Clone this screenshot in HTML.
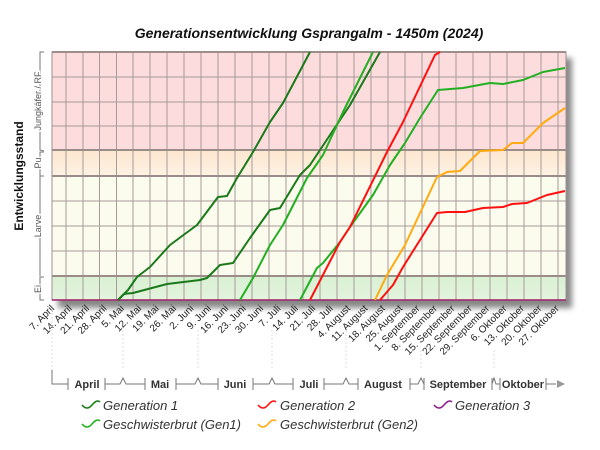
<!DOCTYPE html>
<html><head><meta charset="utf-8"><style>
html,body{margin:0;padding:0;background:#fff;width:600px;height:450px;overflow:hidden}
svg{display:block;font-family:"Liberation Sans",sans-serif}
</style></head><body>
<svg width="600" height="450" viewBox="0 0 600 450" xmlns="http://www.w3.org/2000/svg">
<defs>
<linearGradient id="pu" x1="0" y1="0" x2="0" y2="1"><stop offset="0" stop-color="#fde6cf"/><stop offset="1" stop-color="#fdf2e4"/></linearGradient>
<linearGradient id="ei" x1="0" y1="0" x2="0" y2="1"><stop offset="0" stop-color="#d8f0d2"/><stop offset="1" stop-color="#e4f4de"/></linearGradient>
<filter id="sh" x="-5%" y="-5%" width="115%" height="120%"><feGaussianBlur stdDeviation="3"/></filter>
</defs>
<text x="309" y="38" text-anchor="middle" font-size="14" font-weight="bold" font-style="italic" fill="#111">Generationsentwicklung Gsprangalm - 1450m (2024)</text>
<rect x="58" y="58" width="514" height="250" fill="#888" filter="url(#sh)"/>
<rect x="52" y="52" width="514" height="98" fill="#fcdcdc"/>
<rect x="52" y="150" width="514" height="26" fill="url(#pu)"/>
<rect x="52" y="176" width="514" height="100" fill="#fcfcee"/>
<rect x="52" y="276" width="514" height="24" fill="url(#ei)"/>
<g stroke="#a89a9a" stroke-width="1" fill="none">
<path d="M66 52V300M83 52V300M99.5 52V300M116.5 52V300M133 52V300M150 52V300M167 52V300M184 52V300M201 52V300M218 52V300M235 52V300M252 52V300M269 52V300M286 52V300M303 52V300M320 52V300M337 52V300M354 52V300M371 52V300M388 52V300M405 52V300M422 52V300M439 52V300M456 52V300M473 52V300M490 52V300M507 52V300M524 52V300M541 52V300M558 52V300"/>
<path d="M52 77H566M52 102H566M52 126H566M52 201H566M52 226H566M52 251H566"/>
</g>
<g stroke="#9a8c88" stroke-width="2" fill="none"><path d="M52 150H566M52 176H566M52 276H566M52 52H566"/></g>
<rect x="52" y="52" width="514" height="248" fill="none" stroke="#a09090" stroke-width="1"/>
<path d="M52 300H566" stroke="#a0206a" stroke-width="1.5"/>
<g fill="none" stroke-width="2" stroke-linejoin="round">
<polyline stroke="#1a7a1a" points="118,300 128,290 137,277 150,267 170,245 197,225 218,197 227,196 237,178 253,152 270,122 283,103 310,52"/>
<polyline stroke="#1a7a1a" points="118,300 124,294 133,293 167,284 200,280 207,278 220,265 233,263 250,238 270,210 280,208 300,175 310,165 330,135 350,105 380,52"/>
<polyline stroke="#22b022" points="240,300 253,278 270,245 283,225 307,178 323,155 343,112 373,52"/>
<polyline stroke="#22b022" points="300,300 317,268 323,263 340,242 350,227 373,195 390,165 405,143 420,118 438,90 463,88 490,83 503,84 523,80 543,72 565,68"/>
<polyline stroke="#ff1010" points="310,300 340,242 350,227 387,152 403,122 435,55 440,52"/>
<polyline stroke="#ffaa10" points="375,300 387,275 405,245 437,177 447,172 460,171 480,151 503,150 512,143 523,143 543,123 565,108"/>
<polyline stroke="#ff1010" points="380,300 393,285 403,267 437,213 447,212 465,212 483,208 503,207 512,204 527,203 547,195 565,191"/>
</g>
<g font-size="10" fill="#222" text-anchor="end">
<text transform="translate(55,309) rotate(-45)">7. April</text>
<text transform="translate(72.4,309) rotate(-45)">14. April</text>
<text transform="translate(89.8,309) rotate(-45)">21. April</text>
<text transform="translate(107.2,309) rotate(-45)">28. April</text>
<text transform="translate(124.6,309) rotate(-45)">5. Mai</text>
<text transform="translate(142,309) rotate(-45)">12. Mai</text>
<text transform="translate(159.4,309) rotate(-45)">19. Mai</text>
<text transform="translate(176.8,309) rotate(-45)">26. Mai</text>
<text transform="translate(194.2,309) rotate(-45)">2. Juni</text>
<text transform="translate(211.6,309) rotate(-45)">9. Juni</text>
<text transform="translate(229,309) rotate(-45)">16. Juni</text>
<text transform="translate(246.4,309) rotate(-45)">23. Juni</text>
<text transform="translate(263.8,309) rotate(-45)">30. Juni</text>
<text transform="translate(281.2,309) rotate(-45)">7. Juli</text>
<text transform="translate(298.6,309) rotate(-45)">14. Juli</text>
<text transform="translate(316,309) rotate(-45)">21. Juli</text>
<text transform="translate(333.4,309) rotate(-45)">28. Juli</text>
<text transform="translate(350.8,309) rotate(-45)">4. August</text>
<text transform="translate(368.2,309) rotate(-45)">11. August</text>
<text transform="translate(385.6,309) rotate(-45)">18. August</text>
<text transform="translate(403,309) rotate(-45)">25. August</text>
<text transform="translate(420.4,309) rotate(-45)">1. September</text>
<text transform="translate(437.8,309) rotate(-45)">8. September</text>
<text transform="translate(455.2,309) rotate(-45)">15. September</text>
<text transform="translate(472.6,309) rotate(-45)">22. September</text>
<text transform="translate(490,309) rotate(-45)">29. September</text>
<text transform="translate(507.4,309) rotate(-45)">6. Oktober</text>
<text transform="translate(524.8,309) rotate(-45)">13. Oktober</text>
<text transform="translate(542.2,309) rotate(-45)">20. Oktober</text>
<text transform="translate(559.6,309) rotate(-45)">27. Oktober</text>
</g>
<g stroke="#ddd" stroke-dasharray="2,2"><path d="M52 305V370M123 330V370M198 330V370M272 330V370M346 330V370M421 350V370M494 350V370"/></g>
<g stroke="#777" fill="none" stroke-width="1">
<path d="M52 370V384H68M105 384H120L123 378L126 384H145M176 384H195L198 378L201 384H218M253 384H269L272 378L275 384H293M324 384H343L346 378L349 384H358M410 384H418L421 378L424 384M492 384L494 378L496 384H500M546 384H556"/>
<path d="M68 378V390M105 378V390M145 378V390M176 378V390M218 378V390M253 378V390M293 378V390M324 378V390M358 378V390M410 378V390M424 378V390M492 378V390M500 378V390M546 378V390"/>
</g>
<path d="M557 380L565 384L557 388Z" fill="#999"/>
<g font-size="11" font-weight="bold" fill="#333" text-anchor="middle">
<text x="87" y="388">April</text><text x="160" y="388">Mai</text><text x="235" y="388">Juni</text><text x="309" y="388">Juli</text><text x="383" y="388">August</text><text x="458" y="388">September</text><text x="523" y="388">Oktober</text>
</g>
<g fill="none" stroke-width="1.5">
<path d="M82 405q5 6 10 0t8 -3" stroke="#1a7a1a"/>
<path d="M82 424q5 6 10 0t8 -3" stroke="#22b022"/>
<path d="M258 405q5 6 10 0t8 -3" stroke="#ff1010"/>
<path d="M258 424q5 6 10 0t8 -3" stroke="#ffaa10"/>
<path d="M434 405q5 6 10 0t8 -3" stroke="#8a208a"/>
</g>
<g font-size="13" font-style="italic" fill="#333">
<text x="103" y="410">Generation 1</text>
<text x="103" y="429">Geschwisterbrut (Gen1)</text>
<text x="280" y="410">Generation 2</text>
<text x="280" y="429">Geschwisterbrut (Gen2)</text>
<text x="455" y="410">Generation 3</text>
</g>
<text transform="translate(23,176) rotate(-90)" text-anchor="middle" font-size="12" font-weight="bold" fill="#111">Entwicklungsstand</text>
<g stroke="#777" fill="none">
<path d="M44 52H40V98L36 101L40 104V150L44 151"/>
<path d="M44 152H40V161L36 163L40 165V176"/>
<path d="M44 176H40V224L36 226L40 228V276"/>
<path d="M44 277H40V287L36 289L40 291V300H44"/>
</g>
<g font-size="9" fill="#555" text-anchor="middle">
<text transform="translate(41,101) rotate(-90)" style="paint-order:stroke" stroke="#fff" stroke-width="3">Jungkäfer / RF</text>
<text transform="translate(41,163) rotate(-90)" style="paint-order:stroke" stroke="#fff" stroke-width="3">Pu</text>
<text transform="translate(41,226) rotate(-90)" style="paint-order:stroke" stroke="#fff" stroke-width="3">Larve</text>
<text transform="translate(41,289) rotate(-90)" style="paint-order:stroke" stroke="#fff" stroke-width="3">Ei</text>
</g>
</svg>
</body></html>
